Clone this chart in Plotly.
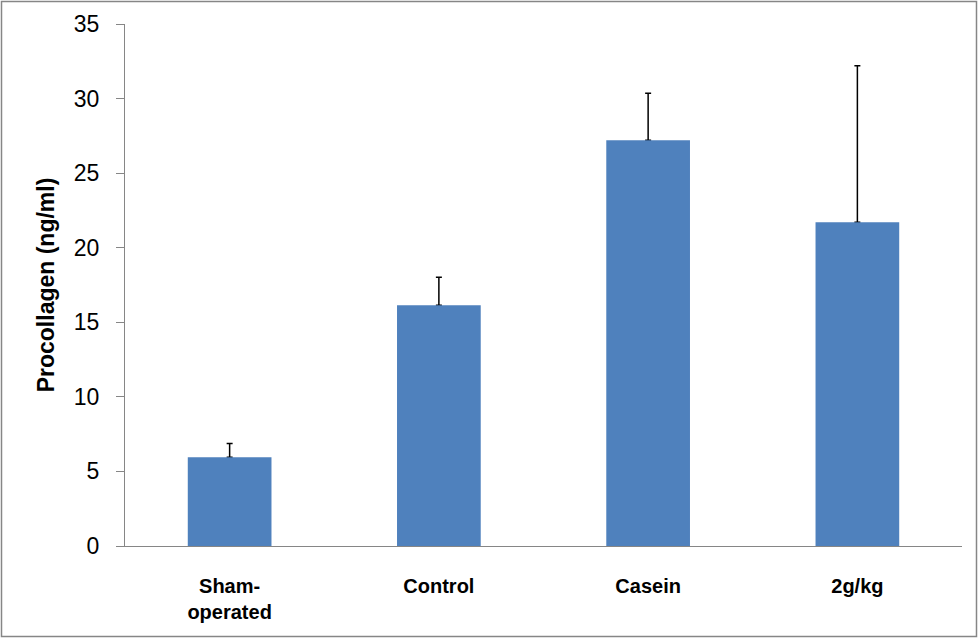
import plotly.graph_objects as go

categories = ["Sham-<br>operated", "Control", "Casein", "2g/kg"]
means = [5.95, 16.15, 27.2, 21.7]
err_plus = [0.93, 1.87, 3.15, 10.5]
err_minus = [0, 0, 0, 0]
y_ticks = [0, 5, 10, 15, 20, 25, 30, 35]

BAR = "#4F81BD"
AXIS = "#868686"
FONT = "Liberation Sans, Arial, sans-serif"

fig = go.Figure()
# error bars (drawn under the bars so only the upward whisker shows)
fig.add_trace(go.Bar(
    x=categories, y=means,
    marker=dict(color="rgba(0,0,0,0)", line=dict(width=0)),
    error_y=dict(type="data", symmetric=False, array=err_plus, arrayminus=err_minus,
                 color="black", thickness=1.5, width=3),
    hoverinfo="skip", showlegend=False,
))
fig.add_trace(go.Bar(
    x=categories, y=means,
    marker=dict(color=BAR, line=dict(width=0)),
    showlegend=False,
))

fig.update_layout(
    width=979, height=640,
    margin=dict(l=125, r=17, t=24, b=94, autoexpand=False),
    paper_bgcolor="white", plot_bgcolor="white",
    barmode="overlay", bargap=0.6,
    font=dict(family=FONT, color="black"),
    xaxis=dict(
        showline=True, linecolor=AXIS, linewidth=1,
        ticks="", showgrid=False, zeroline=False,
        tickfont=dict(size=20, family=FONT, weight="bold"),
        ticklabelstandoff=22, fixedrange=True,
    ),
    yaxis=dict(
        range=[0, 35], tickvals=y_ticks, showline=True, linecolor=AXIS, linewidth=1,
        ticks="outside", ticklen=8, tickcolor=AXIS, tickwidth=1,
        showgrid=False, zeroline=False,
        tickfont=dict(size=23, family=FONT),
        ticklabelstandoff=12,
        title=dict(text="Procollagen (ng/ml)", standoff=12,
                   font=dict(size=23, family=FONT, weight="bold")),
        fixedrange=True,
    ),
    shapes=[dict(
        type="rect", xref="paper", yref="paper",
        x0=(1.5 - 125) / 837, x1=(976.5 - 125) / 837,
        y0=(546 - 636.5) / 522, y1=(546 - 1.5) / 522,
        line=dict(color=AXIS, width=1.5), fillcolor="rgba(0,0,0,0)", layer="below",
    )],
)

fig.write_html("out.html", config={"displayModeBar": False})
